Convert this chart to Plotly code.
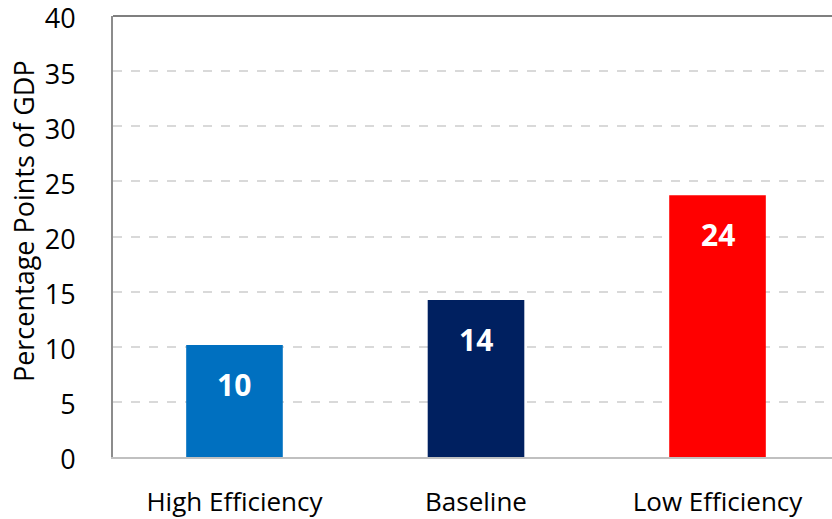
import plotly.graph_objects as go

# Scenario values (percentage points of GDP)
scenarios = ["High Efficiency", "Baseline", "Low Efficiency"]
values = [10.15, 14.23, 23.75]
bar_colors = ["#0070C0", "#002060", "#FF0000"]
y_ticks = [0, 5, 10, 15, 20, 25, 30, 35, 40]
y_title = "Percentage Points of GDP"

FONT = "Open Sans, Noto Sans, DejaVu Sans, sans-serif"

fig = go.Figure(
    go.Bar(
        x=scenarios,
        y=values,
        width=0.40,
        marker=dict(color=bar_colors, line=dict(width=0)),
        hoverinfo="skip",
    )
)

# Value labels near the top of each bar
for s, v in zip(scenarios, values):
    fig.add_annotation(
        x=s, y=v, text=f"<b>{v:.0f}</b>", showarrow=False,
        yshift=-39, font=dict(family=FONT, size=30, color="white"),
    )

# Vertical axis title, placed left of the tick labels
fig.add_annotation(
    text=y_title, xref="paper", yref="paper", x=0, y=0.535,
    xshift=-90, xanchor="center", yanchor="middle", textangle=-90,
    showarrow=False, font=dict(family=FONT, size=27, color="#000000"),
)

# Dark frame line across the top of the plot area
fig.add_shape(type="line", xref="paper", yref="paper", x0=0, x1=1, y0=1, y1=1,
              line=dict(color="#7f7f7f", width=2))

fig.update_layout(
    width=832, height=519,
    margin=dict(l=113, r=0, t=16, b=62),
    paper_bgcolor="white", plot_bgcolor="white",
    showlegend=False,
    font=dict(family=FONT, color="#000000"),
    xaxis=dict(
        type="category", range=[-0.503, 2.474], automargin=False,
        showline=True, linecolor="#c0c0c0", linewidth=2,
        showgrid=False, ticks="", tickfont=dict(size=26),
        ticklabelstandoff=21, ticklabeloverflow="allow",
    ),
    yaxis=dict(
        range=[0, 40], tickvals=y_ticks, automargin=False,
        showline=True, linecolor="#8c8c8c", linewidth=2,
        showgrid=True, gridcolor="#d9d9d9", gridwidth=2, griddash="dash",
        zeroline=False, ticks="", tickfont=dict(size=27),
        ticklabelstandoff=30, ticklabelshift=3, ticklabeloverflow="allow",
    ),
)

fig.write_html("out.html")
